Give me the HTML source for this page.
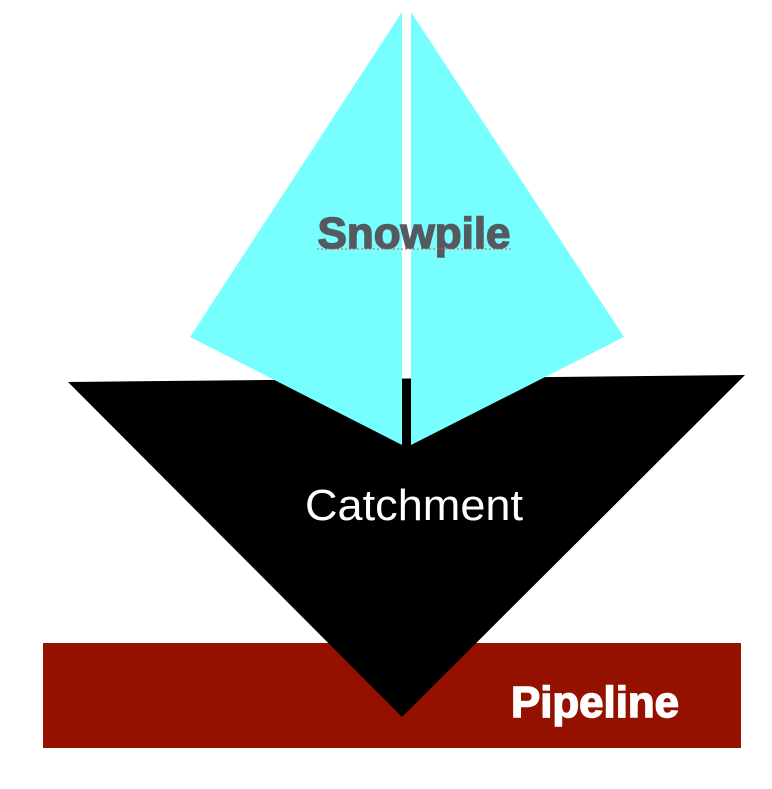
<!DOCTYPE html>
<html><head><meta charset="utf-8"><style>
html,body{margin:0;padding:0;background:#fff;}
body{width:772px;height:784px;overflow:hidden;}
</style></head><body>
<svg width="772" height="784" viewBox="0 0 772 784" xmlns="http://www.w3.org/2000/svg">
<rect x="43" y="643" width="698" height="105" fill="#941100"/>
<polygon points="68,382 745,375 402,717" fill="#000"/>
<polygon points="402,12 402,445 190,337" fill="#77ffff"/>
<polygon points="411,12 411,445 624,337" fill="#77ffff"/>
<rect x="402" y="379" width="9" height="67" fill="#000"/>
<text x="414" y="248" text-anchor="middle" font-family="Liberation Sans, sans-serif" font-weight="bold" font-size="44" fill="#555a60" stroke="#555a60" stroke-width="1.5" textLength="193" lengthAdjust="spacingAndGlyphs">Snowpile</text>
<line x1="317" y1="249" x2="512" y2="249" stroke="#e05050" stroke-width="1" stroke-dasharray="2,2"/>
<text x="414" y="520" text-anchor="middle" font-family="Liberation Sans, sans-serif" font-size="44" fill="#fff" textLength="218" lengthAdjust="spacingAndGlyphs">Catchment</text>
<text x="595" y="717" text-anchor="middle" font-family="Liberation Sans, sans-serif" font-weight="bold" font-size="44" fill="#fff" stroke="#fff" stroke-width="1.5" textLength="168" lengthAdjust="spacingAndGlyphs">Pipeline</text>
</svg>
</body></html>
